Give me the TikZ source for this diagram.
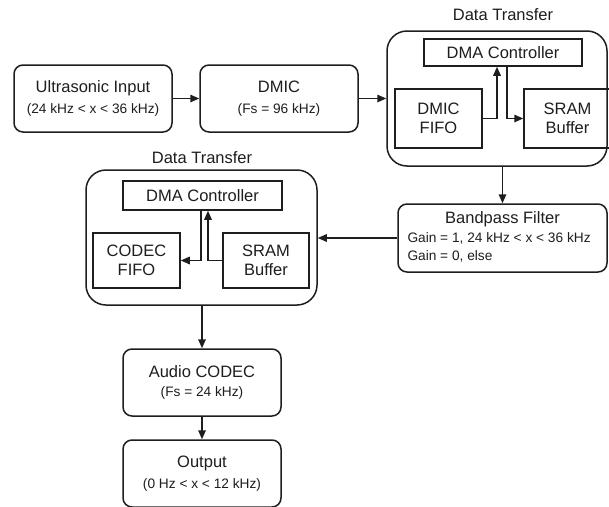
\documentclass[tikz,border=0pt]{standalone}
\usepackage{fontspec}
\setmainfont{Liberation Sans}
\usetikzlibrary{arrows.meta,calc}
\newcommand\mainsz{\fontsize{16.5}{19.5}\selectfont}
\newcommand\subsz{\fontsize{13.7}{16}\selectfont}
\definecolor{ink}{HTML}{1E1E1E}
\tikzset{
  every node/.style={text=ink},
  rbox/.style={draw=ink, line width=1.5pt, rounded corners=9pt, inner sep=0pt, align=center, font=\mainsz},
  sbox/.style={draw=ink, line width=1.5pt, inner sep=0pt, align=center, font=\mainsz},
  group/.style={draw=ink, line width=1.5pt, rounded corners=20pt, inner sep=0pt},
  arr/.style={draw=ink, line width=1.5pt, -{Triangle[length=9pt,width=7.5pt]}},
  ttl/.style={font=\mainsz, inner sep=0pt}
}
\begin{document}
\begin{tikzpicture}[x=1pt,y=-1pt]
\clip (0,0) rectangle (609,506);
\fill[white] (0,0) rectangle (609,506);
% top row
\node[rbox, minimum width=158pt, minimum height=67pt] (ui) at (93,98.5)
  {Ultrasonic Input\\[1pt]{\subsz (24 kHz < x < 36 kHz)}};
\node[rbox, minimum width=158pt, minimum height=67pt] (dmic) at (279,98.5)
  {DMIC\\[1pt]{\subsz (Fs = 96 kHz)}};
% data transfer 1
\node[group, minimum width=220pt, minimum height=135pt] (dt1) at (497,98.5) {};
\node[ttl] (dt1t) at (503,15) {Data Transfer};
\node[sbox, minimum width=158pt, minimum height=27pt] (dma1) at (503,52.5) {DMA Controller};
\node[sbox, minimum width=87pt, minimum height=59pt] (fifo1) at (438.5,118.5) {DMIC\\FIFO};
\node[sbox, minimum width=87pt, minimum height=59pt] (sram1) at (567.5,118.5) {SRAM\\Buffer};
% bandpass
\node[rbox, minimum width=209pt, minimum height=68pt] (bp) at (502.5,238)
  {\begin{tabular}{@{}p{190pt}@{}}
   \makebox[190pt][c]{Bandpass Filter}\\[0pt]
   {\subsz Gain = 1, 24 kHz < x < 36 kHz}\\[-2pt]
   {\subsz Gain = 0, else}
   \end{tabular}};
% data transfer 2
\node[group, minimum width=231pt, minimum height=135pt] (dt2) at (201.5,237.5) {};
\node[ttl] (dt2t) at (202,158) {Data Transfer};
\node[sbox, minimum width=159pt, minimum height=29pt] (dma2) at (202.5,195.5) {DMA Controller};
\node[sbox, minimum width=87pt, minimum height=55pt] (cfifo) at (136.5,260.5) {CODEC\\FIFO};
\node[sbox, minimum width=86pt, minimum height=55pt] (sram2) at (266,260.5) {SRAM\\Buffer};
% bottom
\node[rbox, minimum width=158pt, minimum height=67pt] (codec) at (202,382.5)
  {Audio CODEC\\[-1pt]{\subsz (Fs = 24 kHz)}};
\node[rbox, minimum width=158pt, minimum height=67pt] (out) at (202,473.5)
  {Output\\[1pt]{\subsz (0 Hz < x < 12 kHz)}};
% connectors
\draw[arr] (ui) -- (dmic);
\draw[arr] (dmic) -- (dt1);
\draw[arr] (fifo1.east) -| ([xshift=-6pt]dma1.south);
\draw[arr] ([xshift=4pt]dma1.south) |- (sram1.west);
\draw[arr] (bp.north |- dt1.south) -- (bp.north);
\draw[arr] (bp.west) -- (bp.west -| dt2.east);
\draw[arr] (sram2.west) -| ([xshift=5.5pt]dma2.south);
\draw[arr] ([xshift=-1.5pt]dma2.south) |- (cfifo.east);
\draw[arr] (dt2.south -| codec.north) -- (codec.north);
\draw[arr] (codec) -- (out);
\end{tikzpicture}
\end{document}
